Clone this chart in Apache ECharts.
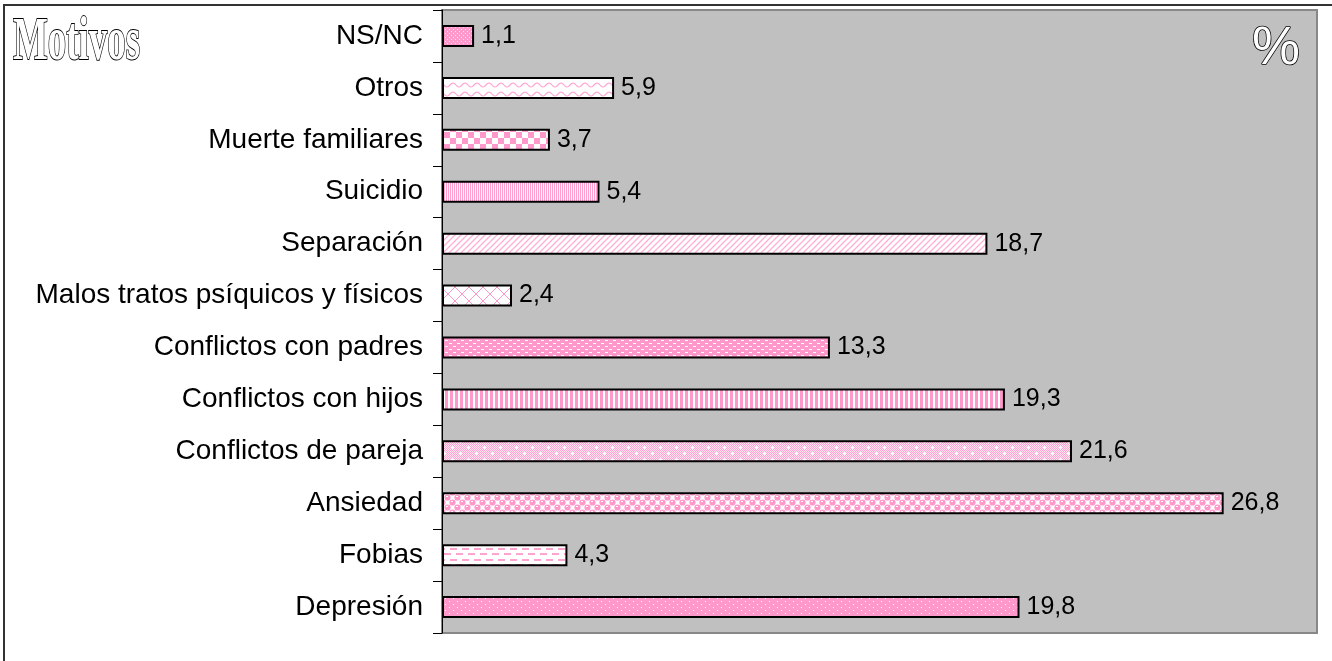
<!DOCTYPE html>
<html>
<head>
<meta charset="utf-8">
<script src="https://cdn.jsdelivr.net/npm/echarts@6/dist/echarts.min.js"></script>
<style>
html,body{margin:0;padding:0;background:#fff;}
#chart{width:1332px;height:661px;}
</style>
</head>
<body>
<div id="chart"></div>
<script>
// ---- data (bottom to top, as drawn by the category axis) ----
var categories = ['Depresión', 'Fobias', 'Ansiedad', 'Conflictos de pareja', 'Conflictos con hijos',
  'Conflictos con padres', 'Malos tratos psíquicos y físicos', 'Separación', 'Suicidio',
  'Muerte familiares', 'Otros', 'NS/NC'];
var values = [19.8, 4.3, 26.8, 21.6, 19.3, 13.3, 2.4, 18.7, 5.4, 3.7, 5.9, 1.1];
var titleText = 'Motivos';
var unitText = '%';

// ---- fill patterns (style only) ----
var P = '#FF99CC', W = '#FFFFFF';
function tile(w, h, draw) {
  var c = document.createElement('canvas');
  c.width = w; c.height = h;
  var g = c.getContext('2d');
  draw(g, w, h);
  return c;
}
var patternDraw = [
  // Depresión: pink with white dots
  function () { return tile(8, 6, function (g) { g.fillStyle = P; g.fillRect(0, 0, 8, 6); g.fillStyle = W; g.fillRect(1, 1, 1, 1); g.fillRect(5, 4, 1, 1); }); },
  // Fobias: white with pink dashes
  function () { return tile(12, 11, function (g) { g.fillStyle = W; g.fillRect(0, 0, 12, 11); g.fillStyle = '#FFA3D1'; g.fillRect(0, 3, 7, 2); g.fillRect(6, 9, 6, 2); g.fillRect(0, 9, 1, 2); }); },
  // Ansiedad: pink balls
  function () { return tile(10, 10, function (g) {
    g.fillStyle = W; g.fillRect(0, 0, 10, 10); g.fillStyle = P;
    [[2.5, 2.5], [7.5, 7.5], [12.5, 2.5], [-2.5, 7.5], [2.5, 12.5], [7.5, -2.5]].forEach(function (p) { g.beginPath(); g.arc(p[0], p[1], 3.1, 0, Math.PI * 2); g.fill(); });
    g.fillStyle = W; g.fillRect(1, 1, 2, 1); g.fillRect(6, 6, 2, 1);
  }); },
  // Conflictos de pareja: fine light checker with white plus marks
  function () { return tile(16, 12, function (g) {
    for (var y = 0; y < 12; y++) for (var x = 0; x < 16; x++) { g.fillStyle = ((x + y) % 2) ? '#FFE3F1' : '#FFA6D2'; g.fillRect(x, y, 1, 1); }
    g.fillStyle = W; g.fillRect(3, 3, 3, 1); g.fillRect(4, 2, 1, 3); g.fillRect(11, 9, 3, 1); g.fillRect(12, 8, 1, 3);
  }); },
  // Conflictos con hijos: vertical stripes
  function () { return tile(5, 1, function (g) { g.fillStyle = P; g.fillRect(0, 0, 3, 1); g.fillStyle = W; g.fillRect(3, 0, 2, 1); }); },
  // Conflictos con padres: pink with white dashes
  function () { return tile(8, 6, function (g) { g.fillStyle = P; g.fillRect(0, 0, 8, 6); g.fillStyle = W; g.fillRect(1, 1, 3, 1); g.fillRect(5, 4, 3, 1); }); },
  // Malos tratos: white with pink lattice
  function () { return tile(14, 14, function (g) {
    g.fillStyle = W; g.fillRect(0, 0, 14, 14); g.strokeStyle = P; g.lineWidth = 1;
    g.beginPath(); g.moveTo(0, 14); g.lineTo(14, 0); g.moveTo(0, 0); g.lineTo(14, 14); g.stroke();
  }); },
  // Separación: light diagonal stripes
  function () { return tile(6, 6, function (g) {
    g.fillStyle = W; g.fillRect(0, 0, 6, 6); g.strokeStyle = '#FFB0D6'; g.lineWidth = 1.3;
    g.beginPath(); g.moveTo(-1, 7); g.lineTo(7, -1); g.moveTo(-1, 1); g.lineTo(1, -1); g.moveTo(5, 7); g.lineTo(7, 5); g.stroke();
  }); },
  // Suicidio: fine vertical stripes
  function () { return tile(2, 1, function (g) { g.fillStyle = '#FF9FCF'; g.fillRect(0, 0, 1, 1); g.fillStyle = W; g.fillRect(1, 0, 1, 1); }); },
  // Muerte familiares: checkerboard
  function () { return tile(12, 12, function (g) { g.fillStyle = W; g.fillRect(0, 0, 12, 12); g.fillStyle = P; g.fillRect(0, 0, 6, 6); g.fillRect(6, 6, 6, 6); }); },
  // Otros: wavy lines
  function () { return tile(12, 9, function (g) {
    g.fillStyle = W; g.fillRect(0, 0, 12, 9); g.strokeStyle = '#FFA6D2'; g.lineWidth = 1.2; g.beginPath();
    for (var x = 0; x <= 12; x++) { var y = 4 + 2 * Math.sin(2 * Math.PI * x / 12); if (x === 0) g.moveTo(x, y); else g.lineTo(x, y); }
    g.stroke();
  }); },
  // NS/NC: pink with dense white dots
  function () { return tile(4, 4, function (g) { g.fillStyle = P; g.fillRect(0, 0, 4, 4); g.fillStyle = '#FFE0F0'; g.fillRect(1, 1, 1, 1); g.fillRect(3, 3, 1, 1); }); }
];

var chart = echarts.init(document.getElementById('chart'), null, {renderer: 'canvas'});
var font = '"Liberation Sans", Arial, sans-serif';

var option = {
  backgroundColor: '#fff',
  animation: false,
  grid: {
    left: 442, right: 15, top: 10, bottom: 28,
    show: true, backgroundColor: '#C0C0C0', borderColor: '#888888', borderWidth: 2
  },
  xAxis: {
    type: 'value', min: 0, max: 30, show: false
  },
  yAxis: {
    type: 'category', data: categories,
    axisLine: {show: true, lineStyle: {color: '#000', width: 1}},
    axisTick: {show: true, length: 9, lineStyle: {color: '#000'}},
    axisLabel: {color: '#000', fontSize: 28, fontFamily: font, margin: 19},
    splitLine: {show: false}
  },
  series: [{
    type: 'bar',
    barWidth: 22,
    data: values.map(function (v, i) {
      return {value: v, itemStyle: {color: {image: patternDraw[i](), repeat: 'repeat'}, borderColor: '#000', borderWidth: 2}};
    }),
    label: {
      show: true, position: 'right', distance: 7,
      color: '#000', fontSize: 25, fontFamily: font,
      formatter: function (p) { return String(p.value).replace('.', ','); }
    }
  }],
  graphic: [
    {type: 'rect', silent: true, z: 100, shape: {x: 4, y: 5, width: 1400, height: 700},
      style: {fill: 'none', stroke: '#333', lineWidth: 2}},
    {type: 'text', x: 13, y: 74, scaleX: 0.71, scaleY: 1.17, z: 100,
      style: {text: titleText, x: 0, y: 0, font: 'bold 52px "Liberation Serif", "DejaVu Serif", serif',
        fill: '#fff', stroke: '#000', lineWidth: 1.6, verticalAlign: 'bottom', align: 'left'}},
    {type: 'text', x: 1252, y: 76, z: 100,
      style: {text: unitText, x: 0, y: 0, font: '54px "Liberation Sans", Arial, sans-serif',
        fill: '#fff', stroke: '#000', lineWidth: 1.5, verticalAlign: 'bottom', align: 'left'}}
  ]
};
chart.setOption(option);
</script>
</body>
</html>
